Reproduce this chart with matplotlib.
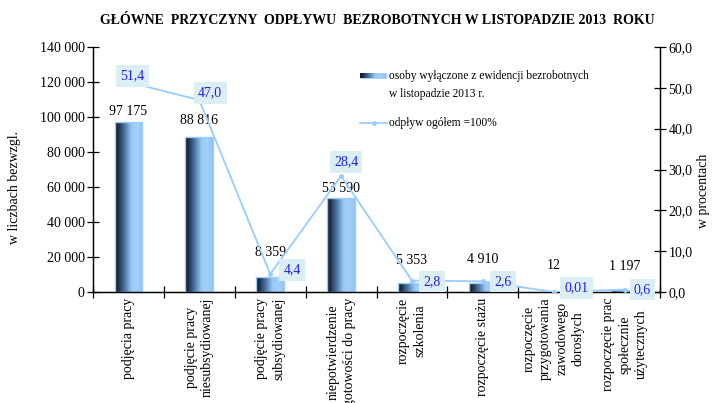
import numpy as np
import matplotlib
matplotlib.use("Agg")
import matplotlib.pyplot as plt
from matplotlib.colors import LinearSegmentedColormap

# ---- data ----
categories = [
    "podjęcia pracy",
    "podjęcie pracy\nniesubsydiowanej",
    "podjęcie pracy\nsubsydiowanej",
    "niepotwierdzenie\ngotowości do pracy",
    "rozpoczęcie\nszkolenia",
    "rozpoczęcie stażu",
    "rozpoczęcie\nprzygotowania\nzawodowego\ndorosłych",
    "rozpoczęcie prac\nspołecznie\nużytecznych",
]
counts = [97175, 88816, 8359, 53590, 5353, 4910, 12, 1197]
percents = [51.4, 47.0, 4.4, 28.4, 2.8, 2.6, 0.01, 0.6]
left_ticks = [0, 20000, 40000, 60000, 80000, 100000, 120000, 140000]
right_ticks = [0, 10, 20, 30, 40, 50, 60]

title = "GŁÓWNE  PRZYCZYNY  ODPŁYWU  BEZROBOTNYCH W LISTOPADZIE 2013  ROKU"
legend_bar = "osoby wyłączone z ewidencji bezrobotnych\nw listopadzie 2013 r."
legend_line = "odpływ ogółem =100%"

# label offsets (pixels)
count_lab_dy = [10, 16, 25, 10, 22, 24, 26, 23]
pct_lab_off = [(4, 6), (11, 7), (22, 4), (5, 14), (20, -1), (20, 0), (23, 4), (18, 0)]

plt.rcParams['font.family'] = ['Liberation Serif', 'DejaVu Serif']
plt.rcParams['font.size'] = 10

W, H = 716, 403
fig = plt.figure(figsize=(W / 100, H / 100), dpi=100)
ax = fig.add_axes([93 / W, 1 - 292 / H, (660 - 93) / W, (292 - 47) / H])
ax2 = ax.twinx()

x = np.arange(len(categories))
bars = ax.bar(x, counts, width=0.39, color='none', edgecolor='#99ccff', linewidth=1.0, zorder=3)

cmap = LinearSegmentedColormap.from_list(
    'barg', [(0.0, '#101c2c'), (0.12, '#1c2e46'), (0.35, '#4d79a8'),
             (0.6, '#9ccaf6'), (0.8, '#a4d0fa'), (1.0, '#93c2ef')])
grad = np.linspace(0, 1, 256).reshape(1, -1)
ax.set_xlim(-0.5, len(categories) - 0.5)
ax.set_ylim(0, 140000)
for b in bars:
    x0, w, h = b.get_x(), b.get_width(), b.get_height()
    im = ax.imshow(grad, extent=[x0, x0 + w, 0, max(h, 1)], aspect='auto',
                   cmap=cmap, zorder=2, interpolation='bilinear')
    im.set_clip_path(b)
ax.set_xlim(-0.5, len(categories) - 0.5)
ax.set_ylim(0, 140000)

def fmt_thousands(v):
    return f"{int(v):,}".replace(",", " ")

for xi, v, dy in zip(x, counts, count_lab_dy):
    ax.annotate(fmt_thousands(v), (xi, v), xytext=(0, dy), textcoords='offset pixels',
                ha='center', va='center', fontsize=10, color='black', zorder=4)

ax.set_yticks(left_ticks)
ax.set_yticklabels([fmt_thousands(t) for t in left_ticks])
ax.set_xticks(x)
ax.set_xticklabels(categories, rotation=90, va='top', ha='center', fontsize=10,
                   linespacing=1.35)
ax.tick_params(axis='x', which='major', length=0, pad=4)
ax.set_xticks(np.arange(-0.5, len(categories)), minor=True)
ax.tick_params(axis='x', which='minor', direction='inout', length=8, width=0.9)
ax.tick_params(axis='y', direction='inout', length=8, width=0.9, pad=2)

ax2.set_ylim(0, 60)
ax2.set_yticks(right_ticks)
ax2.set_yticklabels([f"{t:.1f}".replace(".", ",") for t in right_ticks])
ax2.tick_params(axis='y', direction='inout', length=8, width=0.9, pad=2)
ax2.plot(x, percents, color='#99ccff', lw=1.3, marker='o', markersize=2.5, zorder=5)

def fmt_pct(v):
    s = f"{v:.2f}" if v < 0.1 else f"{v:.1f}"
    return s.replace(".", ",")

for xi, p, (dx, dy) in zip(x, percents, pct_lab_off):
    ax2.annotate(fmt_pct(p), (xi, p), xytext=(dx, dy), textcoords='offset pixels',
                 ha='center', va='center', fontsize=10, color='#2020ee', zorder=6,
                 bbox=dict(boxstyle='square,pad=0.3', facecolor='#dbeef4', edgecolor='none'))

for a in (ax, ax2):
    a.spines['top'].set_visible(False)
    for s in ('left', 'right', 'bottom'):
        a.spines[s].set_linewidth(0.9)
        a.spines[s].set_color('black')
ax.patch.set_visible(False)

# axis titles
fig.text(15 / W, 1 - 187 / H, "w liczbach bezwzgl.", rotation=90, ha='center', va='center', fontsize=10)
fig.text(703 / W, 1 - 191 / H, "w procentach", rotation=90, ha='center', va='center', fontsize=10)

# title
fig.text(377 / W, 1 - 20 / H, title, ha='center', va='center', fontsize=10, fontweight='bold')

# legend (manual)
lax = fig.add_axes([0, 0, 1, 1], facecolor='none')
lax.set_xlim(0, W)
lax.set_ylim(H, 0)
lax.axis('off')
lax.imshow(grad, extent=[360, 386, 78, 73], aspect='auto', cmap=cmap, zorder=2)
lax.add_patch(plt.Rectangle((360, 73), 26, 5, fill=False, edgecolor='#99ccff', lw=0.6))
lax.plot([360, 387], [123, 123], color='#99ccff', lw=1.2)
lax.plot([373.5], [123], marker='o', markersize=2.5, color='#99ccff')
lax.text(389, 85, legend_bar, ha='left', va='center', fontsize=8.3, linespacing=1.6)
lax.text(389, 123, legend_line, ha='left', va='center', fontsize=8.3)
lax.set_xlim(0, W)
lax.set_ylim(H, 0)

fig.savefig("out.png", dpi=100)
